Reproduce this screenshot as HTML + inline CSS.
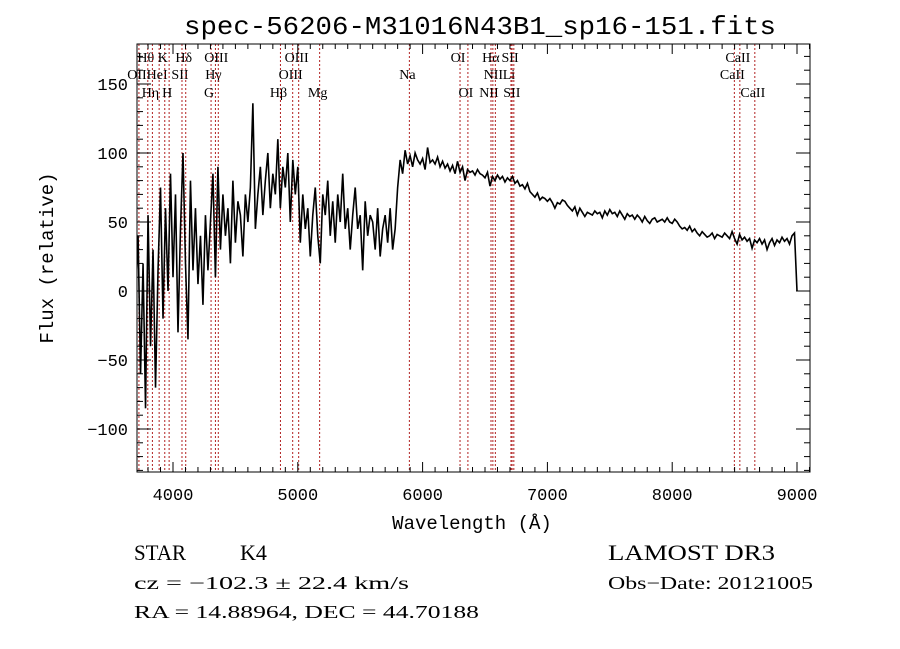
<!DOCTYPE html>
<html><head><meta charset="utf-8"><style>
html,body{margin:0;padding:0;background:#fff;width:900px;height:649px;overflow:hidden}
svg text{fill:#000}
.mono{font-family:"Liberation Mono",monospace}
.serif{font-family:"Liberation Serif",serif}
</style></head><body>
<svg id="chart" width="900" height="649" viewBox="0 0 900 649" xmlns="http://www.w3.org/2000/svg">
<defs><clipPath id="plotclip"><rect x="137" y="44" width="673" height="428"/></clipPath></defs>
<text class="mono" x="480" y="34" font-size="26" text-anchor="middle" textLength="592" lengthAdjust="spacingAndGlyphs">spec-56206-M31016N43B1_sp16-151.fits</text>
<g id="lines"></g>
<g id="spec" clip-path="url(#plotclip)"></g>
<rect x="137" y="44" width="673" height="428" fill="none" stroke="#000" stroke-width="1"/>
<g id="axes"></g>
<text class="mono" x="472" y="529" font-size="19" text-anchor="middle">Wavelength (Å)</text>
<text class="mono" transform="translate(53,258) rotate(-90)" font-size="19" text-anchor="middle">Flux (relative)</text>
<text class="serif" x="134" y="560" font-size="22" textLength="52" lengthAdjust="spacingAndGlyphs">STAR</text>
<text class="serif" x="240" y="560" font-size="22">K4</text>
<text class="serif" x="608" y="560" font-size="22" textLength="167" lengthAdjust="spacingAndGlyphs">LAMOST DR3</text>
<text class="serif" x="134" y="589" font-size="18" textLength="275" lengthAdjust="spacingAndGlyphs">cz = −102.3 ± 22.4 km/s</text>
<text class="serif" x="608" y="589" font-size="18" textLength="205" lengthAdjust="spacingAndGlyphs">Obs−Date: 20121005</text>
<text class="serif" x="134" y="618" font-size="18" textLength="345" lengthAdjust="spacingAndGlyphs">RA =  14.88964, DEC =  44.70188</text>
</svg>
<script>
const waveStart = 3700;
const waveStep = 20;
const fluxValues = [
-5,40,-60,20,-85, 55,-40,30,-70,15, 75,-20,60,0,85, 10,70,-30,45,100,
20,-35,80,15,60, 5,40,-10,55,15, 50,85,10,90,30, 70,40,60,20,80,
35,65,55,25,70, 50,75,136,45,70, 90,55,80,100,60, 85,70,110,60,90,
75,100,50,95,70, 90,35,70,45,60, 25,55,75,40,20, 70,55,80,40,65,
35,70,50,85,45, 60,30,55,75,45, 55,15,65,40,55, 50,30,60,25,45,
55,35,60,30,45, 75,95,85,102,92, 98,90,100,95,92, 96,88,104,93,95,
92,97,90,94,89, 92,87,91,85,94, 86,90,80,88,86, 87,84,88,85,84,
82,86,76,83,80, 84,81,83,79,82, 80,83,78,80,76, 77,74,78,72,70,
68,71,66,68,67, 65,67,64,60,64, 63,66,65,62,60, 58,61,55,60,57,
54,57,56,55,58, 56,57,53,58,55, 59,56,57,54,58, 55,52,56,54,55,
52,55,53,50,54, 51,49,52,53,50, 51,52,50,53,50, 49,52,50,47,45,
46,44,47,43,45, 42,40,43,41,39, 40,42,38,41,40, 39,42,40,38,43,
38,34,41,37,39, 36,38,31,37,35, 38,34,37,30,35, 38,33,37,35,39,
36,38,34,40,42, 0];
const lineNames = ["OII","Hθ","Hη","HeI","K","H","SII","Hδ","G","Hγ","OIII","Hβ","OIII","OIII","Mg","Na","OI","OI","NII","Hα","NII","Li","SII","SII","CaII","CaII","CaII"];
const lineWaves = [3727,3798,3835,3889,3934,3969,4072,4102,4305,4340,4363,4861,4959,5007,5175,5894,6300,6363,6548,6563,6583,6708,6717,6731,8498,8542,8662];
const lineRows  = [2,1,3,2,1,3,2,1,3,2,1,3,2,1,3,2,1,3,3,1,2,2,1,3,2,1,3];
const xTicks = [4000,5000,6000,7000,8000,9000];
const yTicks = [-100,-50,0,50,100,150];

const NS="http://www.w3.org/2000/svg";
const L=137,R=810,T=44,B=472;
function xs(w){return 173+(w-4000)*0.1248;}
function ys(f){return 291-f*1.38;}
function mk(tag,attrs,parent){const e=document.createElementNS(NS,tag);for(const k in attrs)e.setAttribute(k,attrs[k]);parent.appendChild(e);return e;}

const spec=document.getElementById('spec');
let d="";
fluxValues.forEach((f,i)=>{const w=waveStart+i*waveStep;d+=(i?"L":"M")+xs(w).toFixed(2)+","+ys(f).toFixed(2);});
const p=mk('path',{d:d,fill:"none",stroke:"#000","stroke-width":"1.6","stroke-linejoin":"miter"},spec);



const lg=document.getElementById('lines');
const rowY={1:62,2:79,3:97};
lineWaves.forEach((w,i)=>{
  const x=xs(w);
  const ln=mk('line',{x1:x,x2:x,y1:T,y2:B,stroke:"#b22222","stroke-width":"1","stroke-dasharray":"2,2"},lg);
  
  
  const t=mk('text',{x:x-2,y:rowY[lineRows[i]],"font-size":"14","text-anchor":"middle",class:"serif"},lg);
  t.textContent=lineNames[i];
  
  
});

const ax=document.getElementById('axes');
for(let w=3800;w<=9100;w+=100){
  const x=xs(w);const major=(w%1000===0);const len=major?10:5;
  mk('line',{x1:x,x2:x,y1:B,y2:B-len,stroke:"#000"},ax);
  mk('line',{x1:x,x2:x,y1:T,y2:T+len,stroke:"#000"},ax);
}
xTicks.forEach(w=>{
  const t=mk('text',{x:xs(w),y:500,"font-size":"17","text-anchor":"middle",class:"mono"},ax);
  t.textContent=w;
  
  
});
for(let f=-130;f<=170;f+=10){
  const y=ys(f);const major=(f%50===0);const len=major?14:6;
  mk('line',{x1:L,x2:L+len,y1:y,y2:y,stroke:"#000"},ax);
  mk('line',{x1:R,x2:R-len,y1:y,y2:y,stroke:"#000"},ax);
}
yTicks.forEach(f=>{
  const t=mk('text',{x:128,y:ys(f)+6,"font-size":"17","text-anchor":"end",class:"mono"},ax);
  t.textContent=(f<0?"−"+Math.abs(f):f);
  
  
});
</script>
</body></html>
